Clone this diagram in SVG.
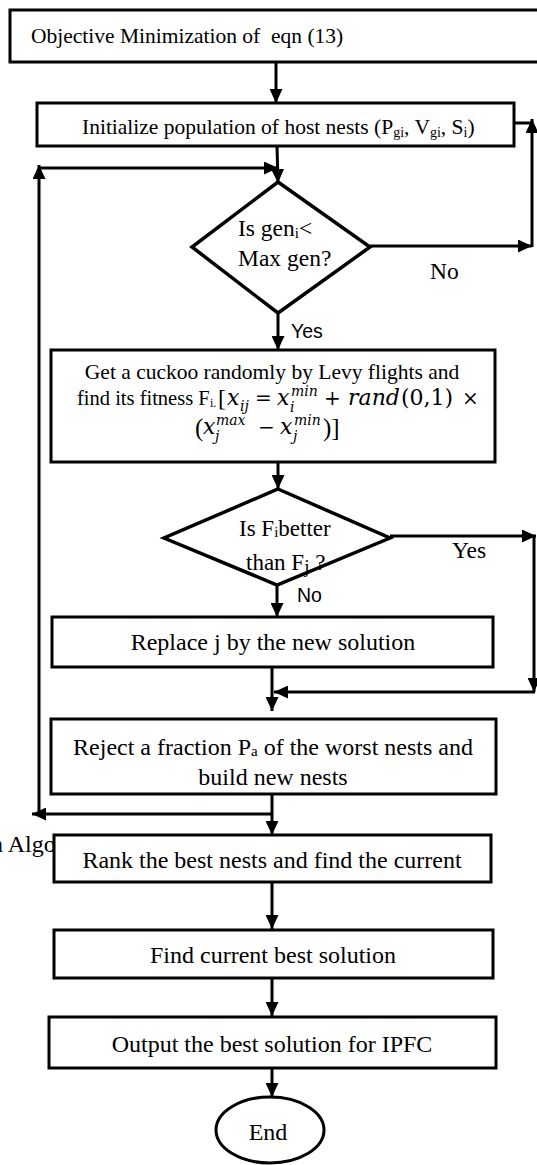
<svg xmlns="http://www.w3.org/2000/svg" width="537" height="1165" viewBox="0 0 537 1165">
  <style>
    .box { fill: #fff; stroke: #000; stroke-width: 3; }
    .dec { fill: #fff; stroke: #000; stroke-width: 3.5; stroke-linejoin: miter; }
    .wire { fill: none; stroke: #000; stroke-width: 3; }
    .t { font-family: "Liberation Serif", "Times New Roman", serif; fill: #000; }
    .m { font-family: "DejaVu Serif", "Liberation Serif", serif; font-style: italic; fill: #000; }
    .mu { font-family: "DejaVu Serif", "Liberation Serif", serif; fill: #000; }
    .s { font-family: "Liberation Sans", Arial, sans-serif; fill: #000; }
  </style>
  <defs>
    <marker id="ah" markerUnits="userSpaceOnUse" markerWidth="14" markerHeight="13" refX="14" refY="6.5" orient="auto">
      <path d="M0,0 L14,6.5 L0,13 z" fill="#000"/>
    </marker>
  </defs>

  <rect width="537" height="1165" fill="#fff"/>

  <!-- caption fragment partly hidden under the ranking box -->
  <text class="t" x="-9" y="852" font-size="24">n Algorithm flowchart</text>

  <!-- connectors -->
  <g id="connectors">
    <line class="wire" x1="276" y1="62" x2="276" y2="103" marker-end="url(#ah)"/>
    <line class="wire" x1="277" y1="146" x2="278" y2="183" marker-end="url(#ah)"/>
    <!-- no-branch of the generation test -->
    <line class="wire" x1="370" y1="246" x2="532" y2="246" marker-end="url(#ah)"/>
    <line class="wire" x1="532" y1="247" x2="532" y2="119" marker-end="url(#ah)"/>
    <line class="wire" x1="514" y1="123" x2="533" y2="123"/>
    <!-- yes-branch -->
    <line class="wire" x1="278" y1="313" x2="278" y2="350" marker-end="url(#ah)"/>
    <line class="wire" x1="278" y1="462" x2="278" y2="489" marker-end="url(#ah)"/>
    <!-- better-fitness test -->
    <line class="wire" x1="390" y1="536" x2="536" y2="536" marker-end="url(#ah)"/>
    <line class="wire" x1="534" y1="536" x2="534" y2="692" marker-end="url(#ah)"/>
    <line class="wire" x1="535" y1="692" x2="274" y2="692" marker-end="url(#ah)"/>
    <line class="wire" x1="277" y1="585" x2="277" y2="617" marker-end="url(#ah)"/>
    <line class="wire" x1="272" y1="667" x2="272" y2="711" marker-end="url(#ah)"/>
    <!-- return loop -->
    <line class="wire" x1="272" y1="794" x2="272" y2="835" marker-end="url(#ah)"/>
    <line class="wire" x1="272" y1="814" x2="32" y2="814" marker-end="url(#ah)"/>
    <line class="wire" x1="39" y1="815" x2="39" y2="165" marker-end="url(#ah)"/>
    <line class="wire" x1="39" y1="168" x2="278" y2="168" marker-end="url(#ah)"/>
    <!-- tail -->
    <line class="wire" x1="272" y1="882" x2="272" y2="929" marker-end="url(#ah)"/>
    <line class="wire" x1="272" y1="978" x2="272" y2="1016" marker-end="url(#ah)"/>
    <line class="wire" x1="272" y1="1068" x2="272" y2="1097" marker-end="url(#ah)"/>
  </g>

  <g id="objective">
    <rect class="box" x="10" y="10" width="540" height="52"/>
    <text class="t" x="31" y="43" font-size="21.5">Objective Minimization of&#160; eqn (13)</text>
  </g>

  <g id="init">
    <rect class="box" x="37" y="103" width="477" height="43"/>
    <text class="t" x="82" y="134" font-size="21.5">Initialize population of host nests (P<tspan font-size="14" dy="3">gi</tspan><tspan dy="-3">, V</tspan><tspan font-size="14" dy="3">gi</tspan><tspan dy="-3">, S</tspan><tspan font-size="14" dy="3">i</tspan><tspan dy="-3">)</tspan></text>
  </g>

  <g id="gen-test">
    <polygon class="dec" points="278,182 370,247 278,313 192,247"/>
    <text class="t" x="238" y="236" font-size="23.5">Is gen<tspan font-size="15" dy="2">i</tspan><tspan dy="-2">&lt;</tspan></text>
    <text class="t" x="238" y="266" font-size="23.5">Max gen?</text>
  </g>
  <text class="t" x="430" y="279" font-size="23.5">No</text>
  <text class="s" x="291" y="338" font-size="19.5">Yes</text>

  <g id="levy">
    <rect class="box" x="51" y="350" width="444" height="112"/>
    <text class="t" x="272" y="379" font-size="21.5" text-anchor="middle">Get a cuckoo randomly by Levy flights and</text>
    <text class="t" x="77" y="405" font-size="20.5">find its fitness F</text>
    <text class="t" x="210" y="407" font-size="12">i.</text>
    <text class="t" x="218" y="406" font-size="24">[</text>
    <text class="m" x="227" y="405" font-size="22">x</text>
    <text class="m" x="240" y="411" font-size="14">ij</text>
    <text class="mu" x="255" y="405" font-size="20">=</text>
    <text class="m" x="277" y="405" font-size="22">x</text>
    <text class="m" x="291" y="396" font-size="14">min</text>
    <text class="m" x="290" y="412" font-size="14">i</text>
    <text class="mu" x="324" y="405" font-size="20">+</text>
    <text class="m" x="348" y="405" font-size="22">rand</text>
    <text class="mu" x="401" y="405" font-size="22">(0,1)</text>
    <text class="mu" x="462" y="405" font-size="20">×</text>
    <text class="t" x="195" y="436" font-size="25">(</text>
    <text class="m" x="203" y="434" font-size="22">x</text>
    <text class="m" x="216" y="425" font-size="14">max</text>
    <text class="m" x="215" y="441" font-size="14">j</text>
    <text class="mu" x="258" y="434" font-size="20">−</text>
    <text class="m" x="280" y="434" font-size="22">x</text>
    <text class="m" x="294" y="425" font-size="14">min</text>
    <text class="m" x="293" y="441" font-size="14">j</text>
    <text class="t" x="323" y="436" font-size="25">)]</text>
  </g>

  <g id="fit-test">
    <polygon class="dec" points="278,489 390,538 277,585 164,538"/>
    <text class="t" x="239" y="536" font-size="23">Is F<tspan font-size="15" dy="1">i</tspan><tspan dy="-1">better</tspan></text>
    <text class="t" x="246" y="570" font-size="23">than F<tspan font-size="19" dy="3">j</tspan><tspan dy="-3"> ?</tspan></text>
  </g>
  <text class="t" x="452" y="558" font-size="23.5">Yes</text>
  <text class="s" x="297" y="602" font-size="19.5">No</text>

  <g id="replace">
    <rect class="box" x="52" y="617" width="441" height="50"/>
    <text class="t" x="273" y="650" font-size="24" text-anchor="middle">Replace j by the new solution</text>
  </g>

  <g id="reject">
    <rect class="box" x="51" y="719" width="445" height="75"/>
    <text class="t" x="273" y="755" font-size="24" text-anchor="middle">Reject a fraction P<tspan font-size="15" dy="1">a</tspan><tspan dy="-1"> of the worst nests and</tspan></text>
    <text class="t" x="273" y="785" font-size="24" text-anchor="middle">build new nests</text>
  </g>

  <g id="rank">
    <rect class="box" x="54" y="835" width="437" height="47"/>
    <text class="t" x="272" y="868" font-size="24" text-anchor="middle">Rank the best nests and find the current</text>
  </g>

  <g id="best">
    <rect class="box" x="54" y="930" width="439" height="48"/>
    <text class="t" x="273" y="963" font-size="24" text-anchor="middle">Find current best solution</text>
  </g>

  <g id="output">
    <rect class="box" x="49" y="1017" width="447" height="51"/>
    <text class="t" x="272" y="1052" font-size="24" text-anchor="middle">Output the best solution for IPFC</text>
  </g>

  <g id="end">
    <ellipse class="box" cx="270" cy="1130" rx="54" ry="33"/>
    <text class="t" x="268" y="1140" font-size="24" text-anchor="middle">End</text>
  </g>
</svg>
